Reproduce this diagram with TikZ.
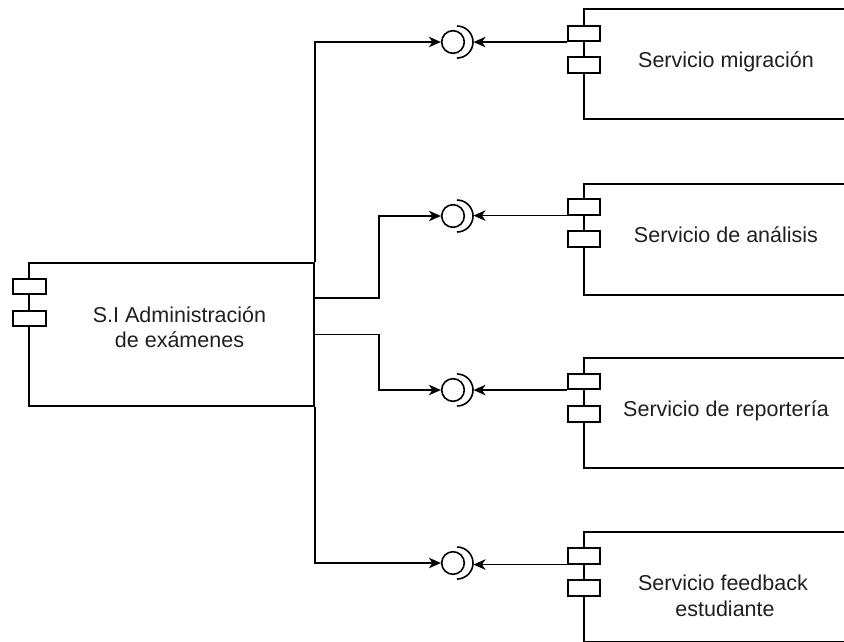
\documentclass[tikz,border=0pt]{standalone}
\usepackage{fontspec}
\setmainfont{Liberation Sans}
\usetikzlibrary{arrows.meta}
\tikzset{
  lw/.style={line width=1.6pt},
  comp/.style={draw, lw, rectangle, inner sep=0pt},
  port/.style={draw, lw, fill=white, rectangle, inner sep=0pt, minimum width=32pt, minimum height=15.5pt},
  iface/.style={draw, lw, circle, inner sep=0pt, minimum size=22.6pt},
  conn/.style={lw, -{Stealth[length=12pt,width=10.5pt,inset=3.5pt]}},
  lbl/.style={anchor=base, inner sep=0pt, font=\fontsize{21.5}{25.8}\selectfont, text=black!88}
}
\begin{document}
\begin{tikzpicture}[x=1pt,y=-1pt]
\useasboundingbox (0,0) rectangle (844,641);
\clip (0,0) rectangle (844,641);
% main component
\node[comp, minimum width=285pt, minimum height=143pt] (main) at (171.5,334.5) {};
\node[port, minimum width=33pt] (mp1) at (29.5,286.5) {};
\node[port, minimum width=33pt] (mp2) at (29.5,318.5) {};
\node[lbl] (mt1) at (179.5,322) {S.I Administración};
\node[lbl] (mt2) at (179.5,347) {de exámenes};
% service components
\node[comp, minimum width=284pt, minimum height=110pt] (s1) at (726,64) {};
\node[comp, minimum width=284pt, minimum height=111pt] (s2) at (726,239.5) {};
\node[comp, minimum width=284pt, minimum height=110pt] (s3) at (726,413) {};
\node[comp, minimum width=284pt, minimum height=110pt] (s4) at (726,587) {};
\node[port] (p1a) at (584,33.5) {};
\node[port] (p1b) at (584,65) {};
\node[port] (p2a) at (584,207) {};
\node[port] (p2b) at (584,239) {};
\node[port] (p3a) at (584,381.5) {};
\node[port] (p3b) at (584,414) {};
\node[port] (p4a) at (584,556) {};
\node[port] (p4b) at (584,588) {};
\node[lbl] (t1) at (726,67) {Servicio migración};
\node[lbl] (t2) at (726,242) {Servicio de análisis};
\node[lbl] (t3) at (726,416) {Servicio de reportería};
\node[lbl] (t4a) at (723,590) {Servicio feedback};
\node[lbl] (t4b) at (725,616) {estudiante};
% interfaces (ball and socket)
\foreach \k/\y in {1/42,2/216,3/390,4/563}{
  \node[iface] (i\k) at (453,\y) {};
  \draw[lw] ([xshift=4pt,yshift=16pt]i\k.center) arc[start angle=90,end angle=-90,radius=16pt];
  \coordinate (k\k) at ([xshift=20.5pt]i\k.center);
}
% required side: from services
\draw[conn] (p1a.south west) -- (p1a.south west -| k1);
\draw[conn] (p2a.south west) -- (p2a.south west -| k2);
\draw[conn] (p3a.south west) -- (p3a.south west -| k3);
\draw[conn] (p4a.south west) -- (p4a.south west -| k4);
% provided side: from main
\draw[conn] (main.north east) |- (i1.west);
\draw[conn] ([yshift=36.5pt]main.east) -- ++(64,0) |- (i2.west);
\draw[conn] (main.east) -- ++(64,0) |- (i3.west);
\draw[conn] (main.south east) |- (i4.west);
\end{tikzpicture}
\end{document}
